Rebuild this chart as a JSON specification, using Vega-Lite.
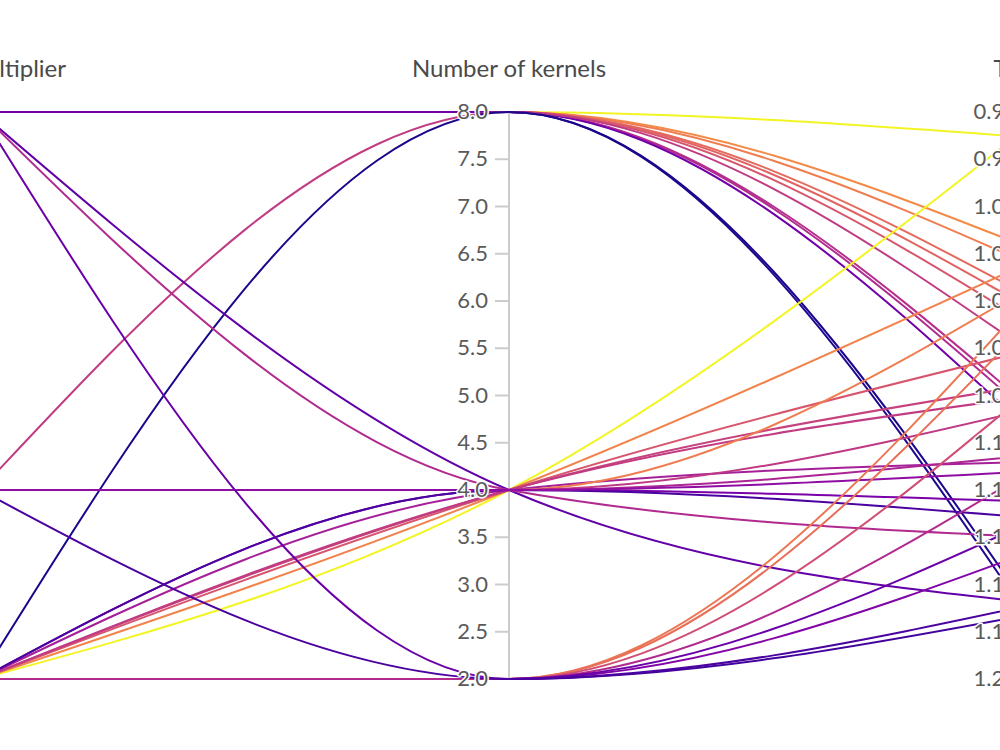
{
  "$schema": "https://vega.github.io/schema/vega-lite/v6.json",
  "width": 1000,
  "height": 750,
  "autosize": "none",
  "padding": 0,
  "background": "white",
  "config": {"view": {"stroke": null}, "font": "Lato"},
  "datasets": {
    "dims": [
      {"dim": "mult", "idx": 0, "title": "Width multiplier", "lo": 1, "hi": 4, "rev": false},
      {"dim": "kern", "idx": 1, "title": "Number of kernels", "lo": 2, "hi": 8, "rev": false},
      {"dim": "loss", "idx": 2, "title": "Test loss", "lo": 0.96, "hi": 1.20, "rev": true}
    ],
    "ticks": [
      {"dim": "mult", "value": 1.0, "label": "1.0"},
      {"dim": "mult", "value": 1.5, "label": "1.5"},
      {"dim": "mult", "value": 2.0, "label": "2.0"},
      {"dim": "mult", "value": 2.5, "label": "2.5"},
      {"dim": "mult", "value": 3.0, "label": "3.0"},
      {"dim": "mult", "value": 3.5, "label": "3.5"},
      {"dim": "mult", "value": 4.0, "label": "4.0"},
      {"dim": "kern", "value": 2.0, "label": "2.0"},
      {"dim": "kern", "value": 2.5, "label": "2.5"},
      {"dim": "kern", "value": 3.0, "label": "3.0"},
      {"dim": "kern", "value": 3.5, "label": "3.5"},
      {"dim": "kern", "value": 4.0, "label": "4.0"},
      {"dim": "kern", "value": 4.5, "label": "4.5"},
      {"dim": "kern", "value": 5.0, "label": "5.0"},
      {"dim": "kern", "value": 5.5, "label": "5.5"},
      {"dim": "kern", "value": 6.0, "label": "6.0"},
      {"dim": "kern", "value": 6.5, "label": "6.5"},
      {"dim": "kern", "value": 7.0, "label": "7.0"},
      {"dim": "kern", "value": 7.5, "label": "7.5"},
      {"dim": "kern", "value": 8.0, "label": "8.0"},
      {"dim": "loss", "value": 0.96, "label": "0.96"},
      {"dim": "loss", "value": 0.98, "label": "0.98"},
      {"dim": "loss", "value": 1.00, "label": "1.00"},
      {"dim": "loss", "value": 1.02, "label": "1.02"},
      {"dim": "loss", "value": 1.04, "label": "1.04"},
      {"dim": "loss", "value": 1.06, "label": "1.06"},
      {"dim": "loss", "value": 1.08, "label": "1.08"},
      {"dim": "loss", "value": 1.10, "label": "1.10"},
      {"dim": "loss", "value": 1.12, "label": "1.12"},
      {"dim": "loss", "value": 1.14, "label": "1.14"},
      {"dim": "loss", "value": 1.16, "label": "1.16"},
      {"dim": "loss", "value": 1.18, "label": "1.18"},
      {"dim": "loss", "value": 1.20, "label": "1.20"}
    ],
    "runs": [
      {"run": "r01", "mult": 4, "kern": 8, "loss": 0.971, "score": 0.99},
      {"run": "r02", "mult": 4, "kern": 8, "loss": 1.019, "score": 0.72},
      {"run": "r03", "mult": 4, "kern": 8, "loss": 1.026, "score": 0.68},
      {"run": "r04", "mult": 4, "kern": 8, "loss": 1.040, "score": 0.62},
      {"run": "r05", "mult": 4, "kern": 8, "loss": 1.045, "score": 0.60},
      {"run": "r06", "mult": 4, "kern": 8, "loss": 1.052, "score": 0.55},
      {"run": "r07", "mult": 4, "kern": 8, "loss": 1.088, "score": 0.42},
      {"run": "r08", "mult": 4, "kern": 8, "loss": 1.091, "score": 0.40},
      {"run": "r09", "mult": 4, "kern": 8, "loss": 1.180, "score": 0.03},
      {"run": "r10", "mult": 4, "kern": 8, "loss": 1.098, "score": 0.22},
      {"run": "r11", "mult": 2, "kern": 8, "loss": 1.064, "score": 0.46},
      {"run": "r12", "mult": 1, "kern": 8, "loss": 1.176, "score": 0.02},
      {"run": "r13", "mult": 1, "kern": 4, "loss": 0.963, "score": 0.99},
      {"run": "r14", "mult": 1, "kern": 4, "loss": 1.022, "score": 0.70},
      {"run": "r15", "mult": 1, "kern": 4, "loss": 1.060, "score": 0.55},
      {"run": "r16", "mult": 1, "kern": 4, "loss": 1.075, "score": 0.48},
      {"run": "r17", "mult": 1, "kern": 4, "loss": 1.080, "score": 0.46},
      {"run": "r18", "mult": 1, "kern": 4, "loss": 1.108, "score": 0.36},
      {"run": "r19", "mult": 1, "kern": 4, "loss": 1.125, "score": 0.24},
      {"run": "r20", "mult": 1, "kern": 4, "loss": 1.132, "score": 0.12},
      {"run": "r21", "mult": 4, "kern": 4, "loss": 1.168, "score": 0.18},
      {"run": "r22", "mult": 4, "kern": 4, "loss": 1.140, "score": 0.40},
      {"run": "r23", "mult": 2, "kern": 4, "loss": 1.032, "score": 0.68},
      {"run": "r24", "mult": 2, "kern": 4, "loss": 1.085, "score": 0.45},
      {"run": "r25", "mult": 2, "kern": 4, "loss": 1.105, "score": 0.38},
      {"run": "r26", "mult": 2, "kern": 4, "loss": 1.112, "score": 0.30},
      {"run": "r27", "mult": 1, "kern": 2, "loss": 1.035, "score": 0.66},
      {"run": "r28", "mult": 1, "kern": 2, "loss": 1.045, "score": 0.64},
      {"run": "r29", "mult": 1, "kern": 2, "loss": 1.075, "score": 0.52},
      {"run": "r30", "mult": 1, "kern": 2, "loss": 1.145, "score": 0.26},
      {"run": "r31", "mult": 1, "kern": 2, "loss": 1.172, "score": 0.10},
      {"run": "r32", "mult": 1, "kern": 2, "loss": 1.110, "score": 0.40},
      {"run": "r33", "mult": 4, "kern": 2, "loss": 1.132, "score": 0.20},
      {"run": "r34", "mult": 2, "kern": 2, "loss": 1.168, "score": 0.12}
    ]
  },
  "encoding": {
    "x": {"field": "dim", "type": "nominal", "axis": null,
          "scale": {"type": "point", "domain": ["mult", "kern", "loss"], "range": [-20, 1038], "padding": 0}}
  },
  "layer": [
    {
      "data": {"name": "dims"},
      "mark": {"type": "rule", "color": "#cccccc", "strokeWidth": 2},
      "encoding": {
        "y": {"datum": 0, "type": "quantitative", "axis": null, "scale": {"domain": [0, 1], "range": [679, 112]}},
        "y2": {"datum": 1}
      }
    },
    {
      "data": {"name": "ticks"},
      "transform": [
        {"lookup": "dim", "from": {"data": {"name": "dims"}, "key": "dim", "fields": ["lo", "hi", "rev"]}},
        {"calculate": "datum.rev ? (datum.hi - datum.value) / (datum.hi - datum.lo) : (datum.value - datum.lo) / (datum.hi - datum.lo)", "as": "norm"}
      ],
      "mark": {"type": "rule", "color": "#cccccc", "strokeWidth": 2, "xOffset": -14, "x2Offset": 0},
      "encoding": {
        "x2": {"field": "dim"},
        "y": {"field": "norm", "type": "quantitative"}
      }
    },
    {
      "data": {"name": "runs"},
      "transform": [
        {"fold": ["mult", "kern", "loss"], "as": ["dim", "value"]},
        {"lookup": "dim", "from": {"data": {"name": "dims"}, "key": "dim", "fields": ["lo", "hi", "rev", "idx"]}},
        {"calculate": "datum.rev ? (datum.hi - datum.value) / (datum.hi - datum.lo) : (datum.value - datum.lo) / (datum.hi - datum.lo)", "as": "norm"}
      ],
      "mark": {"type": "line", "interpolate": "monotone", "strokeWidth": 2},
      "encoding": {
        "y": {"field": "norm", "type": "quantitative"},
        "detail": {"field": "run", "type": "nominal"},
        "order": {"field": "idx", "type": "quantitative"},
        "color": {"field": "score", "type": "quantitative", "legend": null,
                  "scale": {"scheme": "plasma", "domain": [0, 1]}}
      }
    },
    {
      "data": {"name": "ticks"},
      "transform": [
        {"lookup": "dim", "from": {"data": {"name": "dims"}, "key": "dim", "fields": ["lo", "hi", "rev"]}},
        {"calculate": "datum.rev ? (datum.hi - datum.value) / (datum.hi - datum.lo) : (datum.value - datum.lo) / (datum.hi - datum.lo)", "as": "norm"}
      ],
      "mark": {"type": "text", "align": "right", "baseline": "middle", "dx": -21, "fontSize": 22,
               "fill": "white", "stroke": "white", "strokeWidth": 3, "strokeJoin": "round"},
      "encoding": {
        "y": {"field": "norm", "type": "quantitative"},
        "text": {"field": "label"}
      }
    },
    {
      "data": {"name": "ticks"},
      "transform": [
        {"lookup": "dim", "from": {"data": {"name": "dims"}, "key": "dim", "fields": ["lo", "hi", "rev"]}},
        {"calculate": "datum.rev ? (datum.hi - datum.value) / (datum.hi - datum.lo) : (datum.value - datum.lo) / (datum.hi - datum.lo)", "as": "norm"}
      ],
      "mark": {"type": "text", "align": "right", "baseline": "middle", "dx": -21, "fontSize": 22, "color": "#5a5a5a"},
      "encoding": {
        "y": {"field": "norm", "type": "quantitative"},
        "text": {"field": "label"}
      }
    },
    {
      "data": {"name": "dims"},
      "mark": {"type": "text", "align": "center", "baseline": "alphabetic", "dy": -35, "fontSize": 24, "color": "#4a4a4a"},
      "encoding": {
        "y": {"datum": 1, "type": "quantitative"},
        "text": {"field": "title"}
      }
    }
  ]
}
